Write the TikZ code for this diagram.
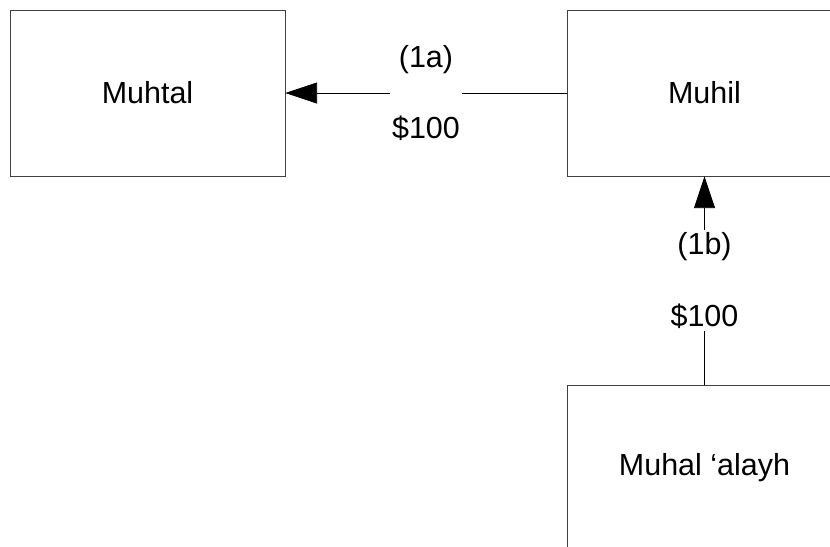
\documentclass[tikz,border=0pt]{standalone}
\usepackage{fontspec}
\setmainfont{Liberation Sans}
\usepackage{tikz}
\usetikzlibrary{arrows.meta}

\tikzset{
  party/.style={draw=black!75,line width=0.6pt,minimum width=8.25cm,minimum height=4.98cm},
  amount/.style={fill=white,align=center,inner sep=2pt}
}

\begin{document}
\begin{tikzpicture}[x=0.03cm,y=-0.03cm,>={Triangle[length=0.95cm,width=0.63cm]},
    font=\fontsize{26}{29}\selectfont]
  \clip (0,0) rectangle (830,546);
  \node[party] (muhtal) at (147.5,93)  {Muhtal};
  \node[party] (muhil)  at (704.5,93)  {Muhil};
  \node[party] (alayh)  at (704.5,468) {Muhal ‘alayh};

  \draw[->,line width=0.6pt] (muhil) -- node[amount] {(1a)\\[32pt]\$100} (muhtal);
  \draw[->,line width=0.6pt] (alayh) -- node[amount] {(1b)\\[32pt]\$100} (muhil);
\end{tikzpicture}
\end{document}
